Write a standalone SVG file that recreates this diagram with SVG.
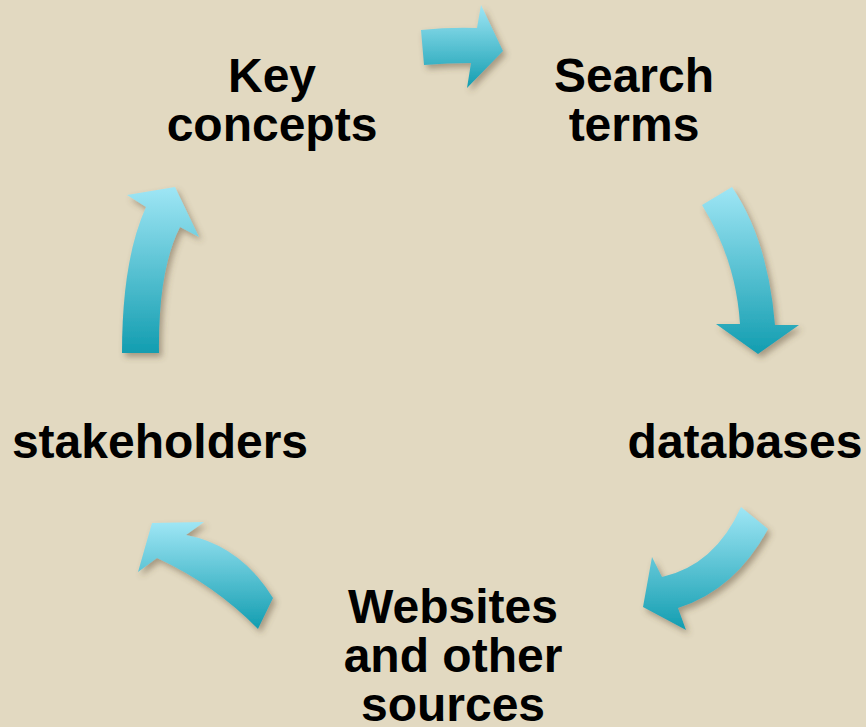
<svg xmlns="http://www.w3.org/2000/svg" width="866" height="727" viewBox="0 0 866 727">
<defs>
<linearGradient id="g" x1="0" y1="0" x2="0" y2="1">
<stop offset="0" stop-color="#9fe6f5"/>
<stop offset="1" stop-color="#129db0"/>
</linearGradient>
<filter id="sh" x="-30%" y="-30%" width="160%" height="160%">
<feDropShadow dx="3" dy="4" stdDeviation="3" flood-color="#5a4a30" flood-opacity="0.45"/>
</filter>
</defs>
<style>
.arrow{fill:url(#g);filter:url(#sh)}
.lbl{font-family:"Liberation Sans",Arial,sans-serif;font-weight:bold;font-size:48px;fill:#000;text-anchor:middle}
</style>
<rect width="866" height="727" fill="#e2d9c1"/>
<g id="connectors">
<path class="arrow" d="M421,30 Q450,27 477,28 L481,5 L503,51 L467,88 L471,63 Q447,63 424,65 Z"/>
<path class="arrow" d="M702,205 L732,187 Q768,240 775,325 L799,325 L758,354 L716,324 L740,324 Q736,260 702,205 Z"/>
<path class="arrow" d="M741,507 L768,529 Q735,590 678,608 L686,630 L643,607 L652,557 L662,577 Q715,565 741,507 Z"/>
<path class="arrow" d="M152,523 L204,522 L186,535 Q240,545 273,598 L258,629 Q215,585 157,558 L138,572 Z"/>
<path class="arrow" d="M122,353 L159,353 Q158,270 180,227 L199,237 L175,187 L127,195 L146,207 Q122,260 122,353 Z"/>
</g>
<g id="key-concepts"><text class="lbl" x="272" y="92">Key</text><text class="lbl" x="272" y="141">concepts</text></g>
<g id="search-terms"><text class="lbl" x="634" y="92">Search</text><text class="lbl" x="634" y="141">terms</text></g>
<g id="databases"><text class="lbl" x="745" y="458">databases</text></g>
<g id="websites"><text class="lbl" x="453" y="623">Websites</text><text class="lbl" x="453" y="672">and other</text><text class="lbl" x="453" y="721">sources</text></g>
<g id="stakeholders"><text class="lbl" x="160" y="458">stakeholders</text></g>
</svg>
